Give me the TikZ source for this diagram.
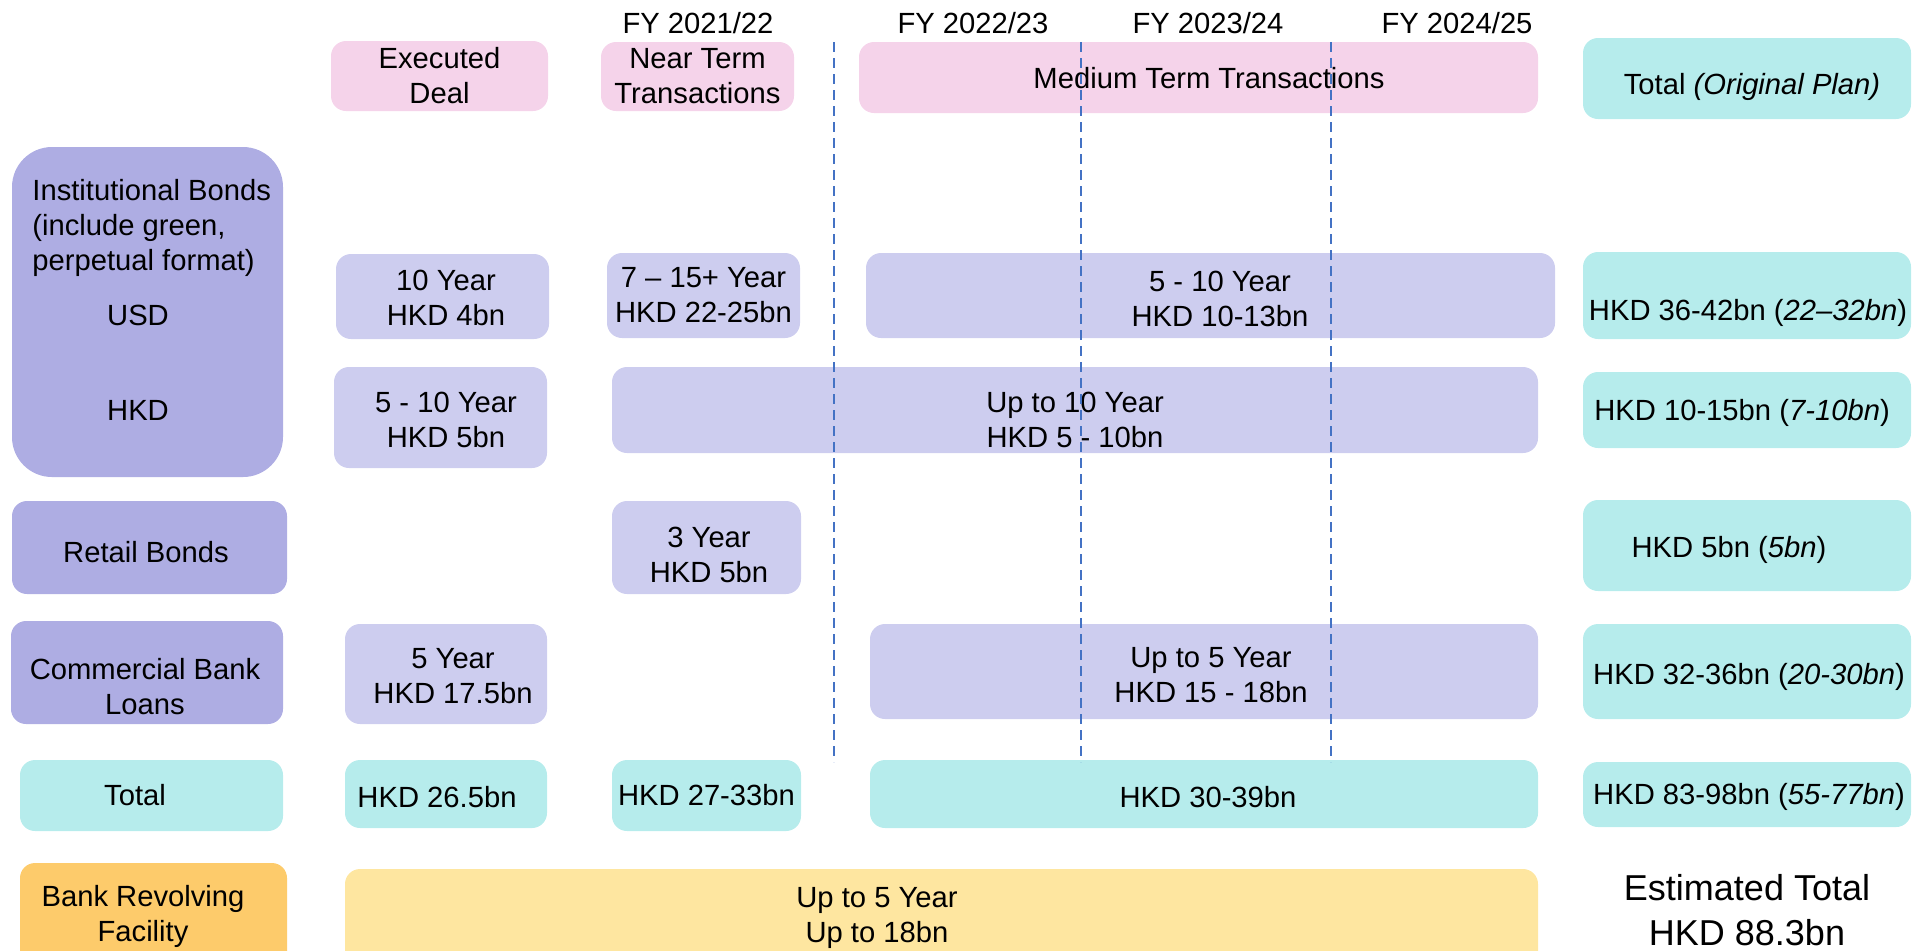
\documentclass[tikz,border=0pt]{standalone}
\usepackage{fontspec}
\setmainfont{Liberation Sans}
\usepackage{xcolor}
\usepackage{tikz}
\usetikzlibrary{positioning}

\definecolor{headpink}{RGB}{245,211,234}
\definecolor{catblue}{RGB}{174,173,227}
\definecolor{cellblue}{RGB}{205,205,239}
\definecolor{sumcyan}{RGB}{182,236,236}
\definecolor{revorange}{RGB}{253,203,107}
\definecolor{revyellow}{RGB}{254,230,160}
\definecolor{divblue}{RGB}{68,114,196}

\begin{document}
\begin{tikzpicture}
                [x=0.5pt, y=-0.5pt,
                 font=\fontsize{14.6}{17.5}\selectfont,
                 box/.style = {rounded corners=7.5pt, inner sep=0pt, align=center},
                 head/.style = {box, fill=headpink},
                 cat/.style = {box, fill=catblue},
                 cell/.style = {box, fill=cellblue},
                 sum/.style = {box, fill=sumcyan},
                 txt/.style = {align=center, inner sep=0pt},
                 divider/.style = {divblue, line width=0.75pt, dash pattern=on 5pt off 3pt}]

                \clip (0,0) rectangle (1914,950);

                % year labels
                \node (fya) at (698,23) {FY 2021/22};
                \node (fyb) at (973,23) {FY 2022/23};
                \node (fyc) at (1208,23) {FY 2023/24};
                \node (fyd) at (1457,23) {FY 2024/25};

                \node[head, minimum width=108.5pt, minimum height=35pt] (exec) at (439.5,76) {Executed\\Deal};
                \node[head, minimum width=96.5pt, minimum height=34.5pt] (near) at (697.5,76.5) {Near Term\\Transactions};
                \node[head, minimum width=339.5pt, minimum height=35.5pt] (medium) at (1198.5,77.5) {};
                \node[txt] (mediumtext) at (1209,78) {Medium Term Transactions};
                \node[sum, minimum width=164pt, minimum height=40.5pt] (plantot) at (1747,78.5) {};
                \node[txt] (plantext) at (1752,87) {Total \textit{(Original Plan)}};

                \node[cat, rounded corners=20pt, minimum width=135.5pt, minimum height=165pt] (inst) at (147.5,312) {};
                \node[anchor=west, align=left, inner sep=0pt] (insttext) at (32,228) {Institutional Bonds\\(include green,\\perpetual format)};
                \node (usd) at (138,315) {USD};
                \node (hkd) at (138,410) {HKD};
                \node[cat, minimum width=137.5pt, minimum height=46.5pt] (retail) at (149.5,547.5) {};
                \node[txt] (retailtext) at (146,552) {Retail Bonds};
                \node[cat, minimum width=136pt, minimum height=51.5pt] (comm) at (147,672.5) {};
                \node[txt] (commtext) at (145,687) {Commercial Bank\\Loans};
                \node[sum, minimum width=131.5pt, minimum height=35.5pt] (total) at (151.5,795.5) {};
                \node[txt] (totaltext) at (135,795) {Total};
                \node[box, fill=revorange, minimum width=133.5pt, minimum height=58.5pt] (revolve) at (153.5,921.5) {};
                \node[txt] (revolvetext) at (143,916) {Bank Revolving\\Facility};

                \node[cell, minimum width=106.5pt, minimum height=42.5pt] (usda) at (442.5,296.5) {};
                \node[txt] (usdatext) at (446,298) {10 Year\\HKD 4bn};
                \node[cell, minimum width=96.5pt, minimum height=42.5pt] (usdb) at (703.5,295.5) {7 – 15+ Year\\HKD 22-25bn};
                \node[cell, minimum width=344.5pt, minimum height=42.5pt] (usdc) at (1210.5,295.5) {};
                \node[txt] (usdctext) at (1220,299) {5 - 10 Year\\HKD 10-13bn};
                \node[sum, minimum width=164pt, minimum height=43.5pt] (usdtot) at (1747,295.5) {};
                \node[txt] (usdtottext) at (1748,313) {HKD 36-42bn (\textit{22–32bn})};

                \node[cell, minimum width=106.5pt, minimum height=50.5pt] (hkda) at (440.5,417.5) {};
                \node[txt] (hkdatext) at (446,420) {5 - 10 Year\\HKD 5bn};
                \node[cell, minimum width=463pt, minimum height=43pt] (hkdb) at (1075,410) {};
                \node[txt] (hkdbtext) at (1075,420) {Up to 10 Year\\HKD 5 - 10bn};
                \node[sum, minimum width=164pt, minimum height=38pt] (hkdtot) at (1747,410) {};
                \node[txt] (hkdtottext) at (1742,413) {HKD 10-15bn (\textit{7-10bn})};

                \node[cell, minimum width=94.5pt, minimum height=46.5pt] (reta) at (706.5,547.5) {};
                \node[txt] (retatext) at (709,555) {3 Year\\HKD 5bn};
                \node[sum, minimum width=164pt, minimum height=45.5pt] (rettot) at (1747,545.5) {};
                \node[txt] (rettottext) at (1729,550) {HKD 5bn (\textit{5bn})};

                \node[cell, minimum width=101pt, minimum height=50pt] (coma) at (446,674) {};
                \node[txt] (comatext) at (453,676) {5 Year\\HKD 17.5bn};
                \node[cell, minimum width=334pt, minimum height=47.5pt] (comb) at (1204,671.5) {};
                \node[txt] (combtext) at (1211,675) {Up to 5 Year\\HKD 15 - 18bn};
                \node[sum, minimum width=164pt, minimum height=47.5pt] (comtot) at (1747,671.5) {};
                \node[txt] (comtottext) at (1749,677) {HKD 32-36bn (\textit{20-30bn})};

                \node[sum, minimum width=101pt, minimum height=34pt] (tota) at (446,794) {};
                \node[txt] (totatext) at (437,797) {HKD 26.5bn};
                \node[sum, minimum width=94.5pt, minimum height=35.5pt] (totb) at (706.5,795.5) {HKD 27-33bn};
                \node[sum, minimum width=334pt, minimum height=34pt] (totc) at (1204,794) {};
                \node[txt] (totctext) at (1208,797) {HKD 30-39bn};
                \node[sum, minimum width=164pt, minimum height=32.5pt] (tottot) at (1747,794.5) {};
                \node[txt] (tottottext) at (1749,797) {HKD 83-98bn (\textit{55-77bn})};

                \node[box, fill=revyellow, minimum width=596.5pt, minimum height=55.5pt] (revbar) at (941.5,924.5) {};
                \node[txt] (revtext) at (877,918) {Up to 5 Year\\Up to 18bn};
                \node[txt, font=\fontsize{18}{22.5}\selectfont] (esttot) at (1747,910) {Estimated Total\\HKD 88.3bn};

                \foreach \x [count=\i] in {834,1081,1331} {
                    \coordinate (top\i) at (\x,42);
                    \coordinate (bot\i) at (\x,762);
                    \draw[divider] (top\i) -- (bot\i);
                }
            \end{tikzpicture}
\end{document}
